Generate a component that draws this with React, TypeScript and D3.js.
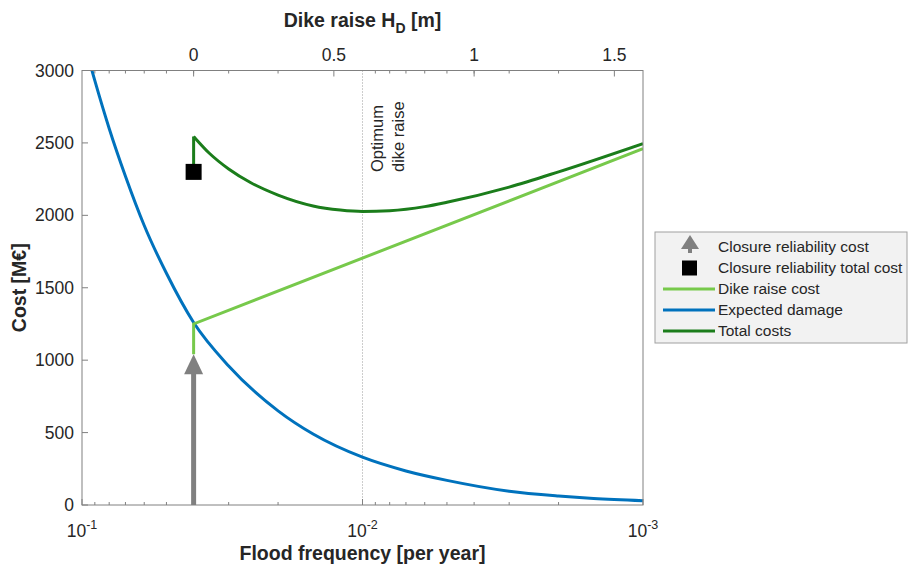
import React from 'react';
import * as d3 from 'd3';

// chart values
const freqTicks = [1e-1, 1e-2, 1e-3];
const dikeRaiseTicks = [0, 0.5, 1, 1.5];
const costTicks = [0, 500, 1000, 1500, 2000, 2500, 3000];

// dike raise H_D = 0 sits at this flood frequency, 1 m per decade
const zeroRaiseFreq = 0.04;
const optimumFreq = 0.01;

const damageFreq = [0.1, 0.09, 0.08, 0.07, 0.06, 0.05, 0.04, 0.03, 0.02, 0.015, 0.01, 0.007, 0.005, 0.003, 0.002, 0.0015, 0.001];
const damageCost = [3250, 2930, 2600, 2270, 1930, 1600, 1260, 960, 650, 490, 330, 235, 170, 95, 62, 45, 30];

const dikeFreq = [0.04, 0.04, 0.001];
const dikeCost = [1040, 1250, 2460];

const totalFreq = [0.04, 0.035, 0.03, 0.025, 0.02, 0.015, 0.012, 0.01, 0.008, 0.006, 0.005, 0.003, 0.002, 0.001];
const totalCost = [2545, 2425, 2320, 2225, 2140, 2065, 2037, 2027, 2032, 2060, 2090, 2195, 2300, 2495];

const closureCost = 1040;
const closureTotalCost = 2300;

const legendItems = [
  { label: 'Closure reliability cost', kind: 'arrow', color: '#808080' },
  { label: 'Closure reliability total cost', kind: 'square', color: '#000000' },
  { label: 'Dike raise cost', kind: 'line', color: '#77c94b' },
  { label: 'Expected damage', kind: 'line', color: '#0072bd' },
  { label: 'Total costs', kind: 'line', color: '#1b7d1b' },
];

const W = 910;
const H = 566;
const left = 82, right = 643, top = 70.5, bottom = 505;
const axisColor = '#808080';
const textColor = '#262626';
const font = 'Liberation Sans, Arial, Helvetica, sans-serif';

export default function App() {
  const x = d3.scaleLog().domain([0.1, 0.001]).range([left, right]);
  const xTop = d3
    .scaleLinear()
    .domain([Math.log10(zeroRaiseFreq / 0.1), Math.log10(zeroRaiseFreq / 0.001)])
    .range([left, right]);
  const y = d3.scaleLinear().domain([0, 3000]).range([bottom, top]);

  const curve = d3
    .line<[number, number]>()
    .x((d) => x(d[0]))
    .y((d) => y(d[1]));

  const smooth = d3
    .line<[number, number]>()
    .x((d) => x(d[0]))
    .y((d) => y(d[1]))
    .curve(d3.curveMonotoneX);

  const damagePts = damageFreq.map((f, i) => [f, damageCost[i]] as [number, number]);
  const dikePts = dikeFreq.map((f, i) => [f, dikeCost[i]] as [number, number]);
  const totalPts = totalFreq.map((f, i) => [f, totalCost[i]] as [number, number]);
  // vertical jump from the closure total cost up to the start of the total curve
  const totalJump: [number, number][] = [[zeroRaiseFreq, closureTotalCost], totalPts[0]];

  // minor log ticks 2..9 in each decade
  const minorTicks: number[] = [];
  [0.01, 0.001].forEach((base) => {
    for (let k = 2; k <= 9; k++) minorTicks.push(base * k);
  });

  const xArrow = x(zeroRaiseFreq);
  const arrowTip = y(closureCost);

  const legX = 655, legY = 232, legW = 252, legH = 111;

  return (
    <svg width={W} height={H} style={{ position: 'absolute', left: 0, top: 0 }} fontFamily={font}>
      <defs>
        <clipPath id="plot">
          <rect x={left} y={top} width={right - left} height={bottom - top} />
        </clipPath>
      </defs>
      <rect x={0} y={0} width={W} height={H} fill="#fff" />

      {/* optimum marker */}
      <line x1={x(optimumFreq)} x2={x(optimumFreq)} y1={top} y2={bottom} stroke="#9a9a9a" strokeWidth={1} strokeDasharray="1,2" />
      <g transform={`translate(${x(optimumFreq) + 20},172) rotate(-90)`} fontSize={16.5} fill={textColor}>
        <text x={0} y={0}>Optimum</text>
        <text x={0} y={21}>dike raise</text>
      </g>

      <g clipPath="url(#plot)">
        <path d={smooth(damagePts) || ''} fill="none" stroke="#0072bd" strokeWidth={3} />
        <path d={curve(dikePts) || ''} fill="none" stroke="#77c94b" strokeWidth={3} />
        <path d={curve(totalJump) || ''} fill="none" stroke="#1b7d1b" strokeWidth={3} />
        <path d={smooth(totalPts) || ''} fill="none" stroke="#1b7d1b" strokeWidth={3} strokeLinejoin="round" />
      </g>

      {/* closure reliability cost arrow */}
      <line x1={xArrow} x2={xArrow} y1={bottom} y2={arrowTip + 18} stroke="#808080" strokeWidth={5} />
      <path d={`M${xArrow},${arrowTip} L${xArrow + 9.5},${arrowTip + 20} L${xArrow - 9.5},${arrowTip + 20} Z`} fill="#808080" />

      {/* closure reliability total cost */}
      <rect x={xArrow - 8} y={y(closureTotalCost) - 8} width={16} height={16} fill="#000" />

      {/* axes box */}
      <rect x={left} y={top} width={right - left} height={bottom - top} fill="none" stroke={axisColor} strokeWidth={1} />

      {/* y axis */}
      {costTicks.map((t) => (
        <g key={`y${t}`}>
          <line x1={left} x2={left + 6} y1={y(t)} y2={y(t)} stroke={axisColor} />
          <text x={left - 8} y={y(t)} dy="0.35em" textAnchor="end" fontSize={17.5} fill={textColor}>{t}</text>
        </g>
      ))}

      {/* bottom axis */}
      {minorTicks.map((t) => (
        <g key={`m${t}`}>
          <line x1={x(t)} x2={x(t)} y1={bottom} y2={bottom - 3} stroke={axisColor} />
          <line x1={x(t)} x2={x(t)} y1={top} y2={top + 3} stroke={axisColor} />
        </g>
      ))}
      {freqTicks.map((t) => (
        <g key={`x${t}`}>
          <line x1={x(t)} x2={x(t)} y1={bottom} y2={bottom - 6} stroke={axisColor} />
          <text x={x(t)} y={537} textAnchor="middle" fontSize={17.5} fill={textColor}>
            10<tspan fontSize={12.5} dy={-8}>{Math.round(Math.log10(t))}</tspan>
          </text>
        </g>
      ))}

      {/* top axis */}
      {dikeRaiseTicks.map((t) => (
        <g key={`t${t}`}>
          <line x1={xTop(t)} x2={xTop(t)} y1={top} y2={top + 6} stroke={axisColor} />
          <text x={xTop(t)} y={61} textAnchor="middle" fontSize={17.5} fill={textColor}>{t}</text>
        </g>
      ))}

      {/* axis titles */}
      <text x={(left + right) / 2} y={27} textAnchor="middle" fontSize={19.5} fontWeight="bold" fill={textColor}>
        Dike raise H<tspan fontSize={14} dy={6}>D</tspan><tspan dy={-6}> [m]</tspan>
      </text>
      <text x={(left + right) / 2} y={560} textAnchor="middle" fontSize={19.5} fontWeight="bold" fill={textColor}>
        Flood frequency [per year]
      </text>
      <text transform={`translate(26,${(top + bottom) / 2}) rotate(-90)`} textAnchor="middle" fontSize={19.5} fontWeight="bold" fill={textColor}>
        Cost [M€]
      </text>

      {/* legend */}
      <rect x={legX} y={legY} width={legW} height={legH} fill="#f2f2f2" stroke="#a0a0a0" />
      {legendItems.map((d, i) => {
        const cy = 247 + i * 21;
        return (
          <g key={d.label}>
            {d.kind === 'line' && <line x1={663} x2={715} y1={cy} y2={cy} stroke={d.color} strokeWidth={3} />}
            {d.kind === 'square' && <rect x={682} y={cy - 7.5} width={15} height={15} fill={d.color} />}
            {d.kind === 'arrow' && (
              <g>
                <line x1={690} x2={690} y1={cy + 6} y2={cy} stroke={d.color} strokeWidth={4} />
                <path d={`M690,${cy - 12} L699,${cy + 2} L681,${cy + 2} Z`} fill={d.color} />
              </g>
            )}
            <text x={718} y={cy} dy="0.35em" fontSize={15.5} fill={textColor}>{d.label}</text>
          </g>
        );
      })}
    </svg>
  );
}
